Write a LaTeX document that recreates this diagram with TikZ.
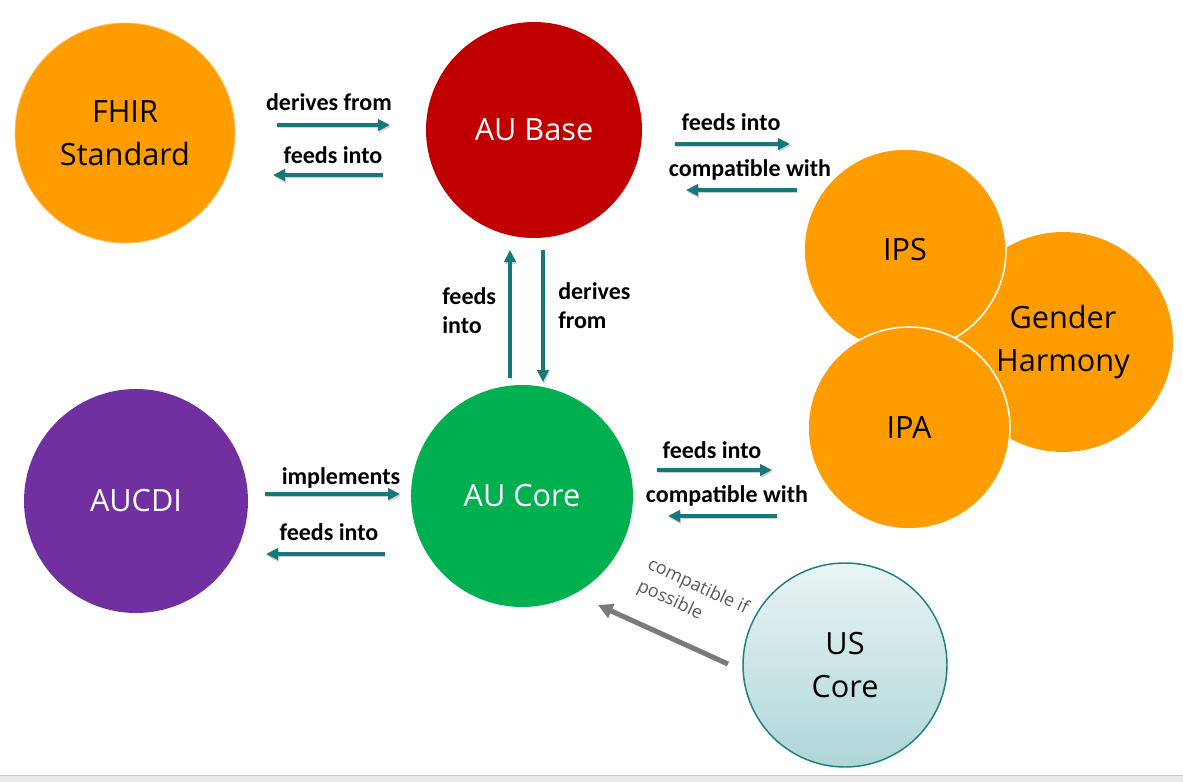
\documentclass[tikz,border=0pt]{standalone}
\usepackage{fontspec}
\setmainfont{Carlito}
\newfontfamily\circfont{Open Sans}
\usetikzlibrary{arrows.meta}
\definecolor{tealA}{HTML}{17777A}
\definecolor{orangeA}{HTML}{FF9C00}
\definecolor{redA}{HTML}{C00000}
\definecolor{greenA}{HTML}{00B050}
\definecolor{purpleA}{HTML}{7030A0}
\definecolor{usTop}{HTML}{EAF4F5}
\definecolor{usBot}{HTML}{AED6D8}
\definecolor{usEdge}{HTML}{1F7F80}
\definecolor{grayArrow}{HTML}{7A7A7C}
\definecolor{grayText}{HTML}{595959}
\begin{document}
\begin{tikzpicture}[x=0.75pt,y=-0.75pt,
  circ/.style={circle, inner sep=0pt, align=center, font=\circfont\fontsize{23}{32.5}\selectfont},
  lbl/.style={font=\bfseries\fontsize{18}{21.75}\selectfont, inner sep=0pt},
  conn/.style={draw=tealA, line width=2.3pt, -{Triangle[length=9pt,width=8.5pt]},
    preaction={draw=black!18, transform canvas={shift={(0.6pt,-1.4pt)}}}},
  grayconn/.style={draw=grayArrow, line width=3.8pt, -{Triangle[length=11pt,width=11pt]}}]
\useasboundingbox (0,0) rectangle (1183,782);
\fill[white] (0,0) rectangle (1183,782);
\fill[black!8] (0,775) rectangle (1183,782);
\draw[black!22, line width=0.75pt] (0,775) -- (1183,775);

% circles
\node[circ, fill=orangeA, draw=orangeA!60!white, line width=0.6pt, minimum size=165pt] (fhir) at (125,133) {FHIR\\Standard};
\node[circ, fill=redA, text=white, minimum size=162pt] (aubase) at (534,130) {AU Base};
\node[circ, fill=greenA, text=white, minimum size=166.5pt] (aucore) at (522,496) {AU Core};
\node[circ, fill=purpleA, text=white, minimum size=168pt] (aucdi) at (136,501) {AUCDI};
\node[circ, fill=orangeA, minimum size=165pt] (gh) at (1063,342) {Gender\\Harmony};
\node[circ, fill=orangeA, draw=white, line width=1.2pt, minimum size=151.5pt] (ips) at (905,250) {IPS};
\node[circ, fill=orangeA, draw=white, line width=1.2pt, minimum size=151.5pt] (ipa) at (909,428) {IPA};
\node[circ, top color=usTop, bottom color=usBot, draw=usEdge, line width=1.1pt, minimum size=153pt] (uscore) at (845,665) {US\\Core};

% arrow endpoints
\coordinate (a1s) at (277,125); \coordinate (a1e) at (390,125);
\coordinate (a2s) at (383,175); \coordinate (a2e) at (273,175);
\coordinate (a3s) at (675,144); \coordinate (a3e) at (790,144);
\coordinate (a4s) at (797,190); \coordinate (a4e) at (686,190);
\coordinate (a5s) at (510,378); \coordinate (a5e) at (510,250);
\coordinate (a6s) at (543,250); \coordinate (a6e) at (543,382);
\coordinate (a7s) at (657,470); \coordinate (a7e) at (772,470);
\coordinate (a8s) at (777,516); \coordinate (a8e) at (668,516);
\coordinate (a9s) at (265,494); \coordinate (a9e) at (400,494);
\coordinate (a10s) at (385,554); \coordinate (a10e) at (266,554);
\coordinate (gs) at (728,664); \coordinate (ge) at (598,605);

\draw[conn] (a1s) -- (a1e);
\draw[conn] (a2s) -- (a2e);
\draw[conn] (a3s) -- (a3e);
\draw[conn] (a4s) -- (a4e);
\draw[conn] (a5s) -- (a5e);
\draw[conn] (a6s) -- (a6e);
\draw[conn] (a7s) -- (a7e);
\draw[conn] (a8s) -- (a8e);
\draw[conn] (a9s) -- (a9e);
\draw[conn] (a10s) -- (a10e);
\draw[grayconn] (gs) -- (ge);

% labels
\node[lbl] (l1) at (329,102) {derives from};
\node[lbl] (l2) at (333,155) {feeds into};
\node[lbl] (l3) at (731,122) {feeds into};
\node[lbl] (l4) at (750,170) {compatible with};
\node[lbl, align=left, anchor=west] (l5) at (442,311) {feeds\\into};
\node[lbl, align=left, anchor=west] (l6) at (558,306) {derives\\from};
\node[lbl] (l7) at (712,450) {feeds into};
\node[lbl] (l8) at (727,496) {compatible with};
\node[lbl] (l9) at (341,478) {implements};
\node[lbl] (l10) at (329,532) {feeds into};
\node[font=\circfont\fontsize{13.5}{18}\selectfont, text=grayText, align=left, rotate=-25, inner sep=0pt] (lg) at (693,598) {compatible if\\possible};
\end{tikzpicture}
\end{document}
